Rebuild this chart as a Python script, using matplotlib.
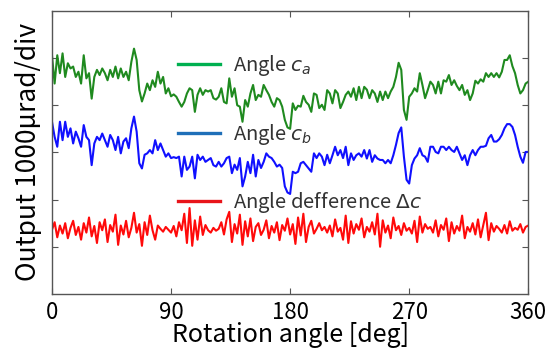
import matplotlib
matplotlib.use("Agg")
import matplotlib.pyplot as plt
from matplotlib.lines import Line2D
import numpy as np

plt.rcParams["font.family"] = ["Noto Sans CJK JP", "DejaVu Sans"]
plt.rcParams["mathtext.fontset"] = "dejavusans"

# rotation angle grid, 2 deg steps
angle = np.arange(0, 361, 2)

# output traces in divisions (1 div = 1000 urad)
angle_ca = [
    5.06, 4.46, 5.06, 4.68, 5.10, 4.60, 4.89, 4.78, 4.82, 4.60,
    4.71, 4.46, 5.06, 4.57, 4.68, 4.14, 4.60, 4.75, 4.64, 4.78,
    4.68, 4.53, 4.75, 4.60, 4.82, 4.57, 4.78, 4.60, 4.71, 4.53,
    4.92, 5.20, 4.96, 4.32, 4.08, 4.25, 4.46, 4.32, 4.53, 4.39,
    4.71, 4.46, 4.60, 4.25, 4.36,
    4.19, 4.23, 4.18, 4.07, 3.97, 4.07, 4.25, 4.36, 4.32, 3.86,
    4.22, 4.36, 4.22, 4.32, 4.29, 4.32, 4.15, 4.12, 4.18, 4.36,
    4.07, 4.04, 4.57, 4.18, 4.36, 4.00, 3.97, 3.65, 4.11, 3.97,
    4.25, 4.43, 4.11, 4.22, 4.18, 4.43, 4.32, 4.22, 4.07, 3.97,
    4.15, 4.11, 3.97, 3.69, 3.53, 3.50,
    4.04, 3.90, 3.99, 3.97, 4.20, 4.07, 4.01, 3.86, 4.25, 4.22,
    3.94, 4.01, 3.90, 4.32, 4.25, 4.04, 4.32, 4.25, 3.94, 4.07,
    4.22, 4.29, 4.18, 4.36, 4.11, 4.39, 4.15, 4.39, 4.33, 4.15,
    4.32, 4.25, 4.07, 4.29, 4.11, 4.29, 4.15, 4.29, 4.39, 4.60,
    4.90, 4.75, 3.90, 3.69, 4.18,
    4.25, 4.36, 4.29, 4.68, 4.43, 4.15, 4.32, 4.50, 4.43, 4.25,
    4.50, 4.25, 4.53, 4.50, 4.64, 4.43, 4.53, 4.41, 4.32, 4.43,
    4.22, 4.32, 4.11, 4.25, 4.52, 4.46, 4.55, 4.50, 4.68, 4.60,
    4.68, 4.60, 4.68, 4.59, 4.71, 4.96, 4.96, 5.06, 4.83, 4.68,
    4.43, 4.25, 4.32, 4.46, 4.50,
]

angle_cb = [
    3.65, 3.33, 3.12, 3.65, 3.26, 3.65, 3.33, 3.51, 3.19, 3.44,
    3.30, 3.12, 3.58, 3.33, 3.26, 2.73, 3.19, 3.33, 3.26, 3.40,
    3.26, 3.12, 3.37, 3.26, 3.05, 3.33, 2.98, 3.23, 3.30, 3.09,
    3.51, 3.76, 3.44, 2.77, 2.66, 2.95, 2.98, 3.05, 2.98, 3.26,
    3.05, 3.19, 3.05, 2.91, 2.98,
    2.88, 2.90, 2.88, 2.91, 2.49, 2.91, 2.63, 2.70, 2.91, 2.45,
    2.95, 2.84, 2.91, 2.80, 2.84, 2.88, 2.73, 2.70, 2.80, 2.70,
    2.77, 2.88, 2.91, 2.56, 2.74, 2.63, 2.88, 2.28, 2.49, 2.80,
    2.56, 2.95, 2.49, 2.84, 2.67, 2.80, 2.98, 2.91, 2.88, 2.80,
    2.70, 2.74, 2.67, 2.28, 2.15, 2.12,
    2.59, 2.56, 2.59, 2.77, 2.80, 2.73, 2.66, 2.59, 2.98, 2.88,
    2.98, 2.91, 2.73, 2.95, 2.77, 2.94, 3.12, 2.94, 3.05, 2.88,
    3.12, 2.73, 2.98, 2.84, 2.94, 2.98, 2.91, 3.05, 2.87, 3.05,
    2.80, 2.94, 2.87, 2.84, 2.84, 2.77, 2.84, 2.77, 2.94, 3.16,
    3.41, 3.53, 2.91, 2.42, 2.34,
    2.73, 2.87, 2.94, 3.09, 2.94, 2.91, 2.80, 3.12, 3.12, 3.01,
    2.98, 3.12, 3.12, 3.05, 3.12, 3.05, 3.01, 3.12, 2.98, 2.84,
    2.94, 2.73, 2.94, 3.05, 2.94, 3.05, 3.12, 3.12, 3.14, 3.30,
    3.37, 3.23, 3.23, 3.28, 3.37, 3.51, 3.60, 3.60, 3.54, 3.37,
    3.12, 2.91, 2.78, 3.01, 3.01,
]

angle_diff = [
    1.36, 1.52, 1.20, 1.45, 1.28, 1.50, 1.18, 1.40, 1.55, 1.25, 1.42,
    1.15, 1.50, 1.30, 1.62, 1.22, 1.44, 1.08, 1.52, 1.35, 1.58,
    1.10, 1.46, 1.32, 1.68, 1.04, 1.45, 1.26, 1.55, 1.20, 1.40,
    1.72, 1.30, 1.48, 1.02, 1.52, 1.25, 1.66, 1.35, 1.15, 1.45,
    1.38, 1.32, 1.42, 1.36, 1.30, 1.44, 1.22, 1.52, 1.35, 1.70,
    1.08, 1.82, 1.02, 1.56, 1.15, 1.64, 1.25, 1.46, 1.35, 1.30,
    1.40, 1.34, 1.38, 1.52, 1.26, 1.58, 1.74, 1.10, 1.48, 1.28,
    1.68, 1.04, 1.54, 1.22, 1.60, 1.12, 1.42, 1.50, 1.25, 1.36,
    1.56, 1.18, 1.44, 1.30, 1.52, 1.14, 1.46, 1.34, 1.60, 1.26,
    1.48, 1.06, 1.62, 1.24, 1.70, 1.10, 1.42, 1.55, 1.28, 1.38,
    1.50, 1.35, 1.42, 1.30, 1.45, 1.22, 1.58, 1.32, 1.40, 1.15,
    1.66, 1.08, 1.54, 1.28, 1.48, 1.36, 1.60, 1.20, 1.42, 1.32,
    1.52, 1.26, 1.70, 1.00, 1.56, 1.30, 1.45, 1.18, 1.62, 1.35,
    1.44, 1.25, 1.50, 1.34, 1.40, 1.28, 1.55, 1.10, 1.64, 1.30,
    1.48, 1.38, 1.42, 1.30, 1.56, 1.22, 1.46, 1.36, 1.60, 1.12,
    1.52, 1.28, 1.44, 1.34, 1.66, 1.18, 1.42, 1.32, 1.50, 1.26,
    1.58, 1.20, 1.46, 1.72, 1.14, 1.50, 1.32, 1.44, 1.38, 1.30,
    1.46, 1.28, 1.54, 1.34, 1.40, 1.36, 1.48, 1.30, 1.42, 1.45,
]

labels = [r"Angle $c_a$", r"Angle $c_b$", r"Angle defference $\mathit{\Delta c}$"]
line_colors = ["#1f8a1f", "#1010ff", "#ff0a0a"]
legend_colors = ["#00b050", "#1f6fb8", "#e8141a"]
x_ticks = [0, 90, 180, 270, 360]

fig = plt.figure(figsize=(5.5, 3.52), dpi=100)
ax = fig.add_axes([0.0945, 0.165, 0.866, 0.804])

for ys, c in zip([angle_ca, angle_cb, angle_diff], line_colors):
    ax.plot(angle, ys, color=c, lw=1.5)

ax.set_xlim(0, 360)
ax.set_ylim(0, 6)
ax.set_xticks(x_ticks)
ax.set_yticks([1, 2, 3, 4, 5])
ax.set_yticklabels([])
ax.tick_params(direction="in", top=True, right=True, length=4, width=0.8,
               color="#555555", labelsize=16, pad=5)
for s in ax.spines.values():
    s.set_color("#555555")
    s.set_linewidth(1.0)

ax.set_xlabel("Rotation angle [deg]", fontsize=18, labelpad=-1)
ax.set_ylabel("Output 1000μrad/div", fontsize=19, labelpad=2)

handles = [Line2D([], [], color=c, lw=2.4) for c in legend_colors]
ax.legend(handles, labels, loc="upper left", bbox_to_anchor=(0.265, 0.85),
          frameon=False, fontsize=14.5, labelspacing=2.15, handlelength=2.1,
          handletextpad=0.6, borderpad=0, borderaxespad=0, labelcolor="#333333")

fig.savefig("out.png", dpi=100)
